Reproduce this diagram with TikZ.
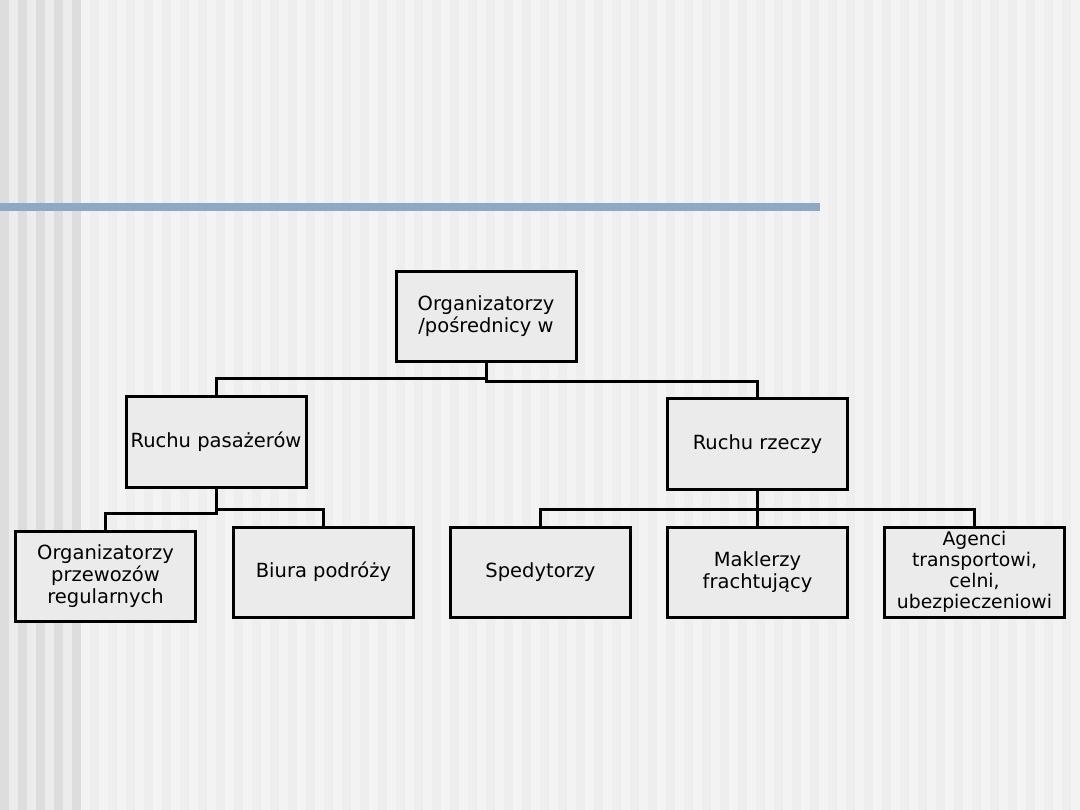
\documentclass[tikz,border=0pt]{standalone}
\usepackage{fontspec}
\setmainfont{DejaVu Sans}
\usepackage{xcolor}
\usepackage{tikz}
\usetikzlibrary{positioning}

\definecolor{bgbase}{RGB}{243,243,243}
\definecolor{bgstripe}{RGB}{238,238,238}
\definecolor{bgdark}{RGB}{221,221,221}
\definecolor{bglight}{RGB}{236,236,236}
\definecolor{barblue}{RGB}{142,169,196}
\definecolor{boxfill}{RGB}{235,235,235}

\begin{document}
\begin{tikzpicture}[
    x=1pt, y=-1pt,
    node distance=34pt and 34pt,
    box/.style={rectangle, draw, line width=3pt, fill=boxfill, minimum width=180pt, minimum height=90pt, inner sep=1pt, align=center, font=\fontsize{19.5}{22}\selectfont},
    conn/.style={line width=3pt}
]
    % background
    \useasboundingbox (0,0) rectangle (1080,810);
    \fill[bgbase] (0,0) rectangle (1080,810);
    \foreach \sx in {90,108,...,1080}
        \fill[bgstripe] (\sx,0) rectangle ++(9,810);
    \fill[bglight] (0,0) rectangle (81,810);
    \foreach \sx in {0,18,...,72}
        \fill[bgdark] (\sx,0) rectangle ++(9,810);
    \fill[barblue] (0,203) rectangle (820,211);

    % boxes
    \node[box] (top) at (486,316.5) {Organizatorzy\\/pośrednicy w};
    \node[box] (pas) at (216,442) {Ruchu pasażerów};
    \node[box] (mak) at (757.5,572) {Maklerzy\\frachtujący};
    \node[box, above=35pt of mak] (rz) {Ruchu rzeczy};
    \node[box, left=of mak] (sped) {Spedytorzy};
    \node[box, right=of mak, font=\fontsize{18.8}{21}\selectfont] (agen) {Agenci\\transportowi,\\celni,\\ubezpieczeniowi};
    \node[box, left=of sped] (biura) {Biura podróży};
    \node[box, left=35pt of biura, yshift=-4.5pt] (org) {Organizatorzy\\przewozów\\regularnych};

    % connectors
    \draw[conn] (top.south) -- ++(0,16) -| (pas.north);
    \draw[conn] (top.south) -- ++(0,19) -| (rz.north);
    \draw[conn] (pas.south) -- ++(0,25) -| (org.north);
    \draw[conn] (pas.south) -- ++(0,21) -| (biura.north);
    \draw[conn] (rz.south) -- (mak.north);
    \draw[conn] (rz.south) -- ++(0,19) -| (sped.north);
    \draw[conn] (rz.south) -- ++(0,19) -| (agen.north);
\end{tikzpicture}
\end{document}
